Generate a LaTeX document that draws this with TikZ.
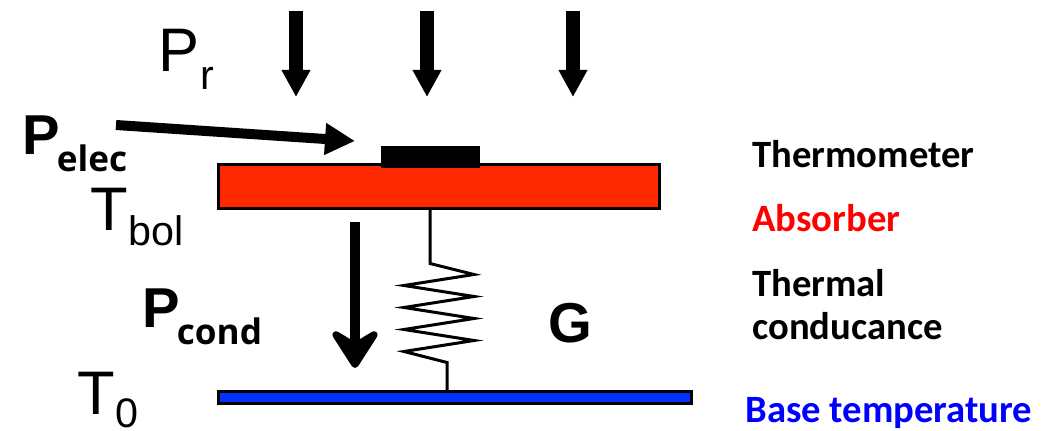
\documentclass[tikz,border=0pt]{standalone}
\usepackage{fontspec}
\setmainfont{Liberation Sans}
\newfontfamily\sidefont{Carlito}
\newfontfamily\subfont{Open Sans}
\usepackage{xcolor}
\definecolor{absorbred}{RGB}{255,41,0}
\definecolor{basesblue}{RGB}{0,51,255}
\definecolor{labelred}{RGB}{255,0,0}
\definecolor{labelblue}{RGB}{0,0,255}
\usetikzlibrary{
  arrows.meta,
  calc
}
\tikzset{
  plate/.style={draw=black, line width=0.06cm, inner sep=0pt, outer sep=0pt},
  beam/.style={line width=0.28cm, -{Triangle[length=0.54cm,width=0.54cm]}},
  elecarr/.style={line width=0.2cm, -{Triangle[length=0.6cm,width=0.6cm]}},
  condarr/.style={line width=0.2cm,
    -{Stealth[length=0.94cm,width=1.2cm,inset=0.36cm,round]}},
  thinlabel/.style={inner sep=0pt, anchor=base west, font=\fontsize{35}{38}\selectfont},
  boldlabel/.style={inner sep=0pt, anchor=base west, font=\fontsize{32}{36}\selectfont\bfseries},
  sidelabel/.style={inner sep=0pt, anchor=base west, align=left,
    font=\fontsize{22}{24.5}\selectfont\sidefont\bfseries},
}
\newcommand{\thinsub}[3][0.36cm]{#2\raisebox{-#1}{\fontsize{23.5}{26}\selectfont\hspace{0.02cm}#3}}
\newcommand{\boldsub}[2]{#1\raisebox{-0.34cm}{\fontsize{20}{22}\selectfont\subfont\bfseries\hspace{-0.06cm}#2}}

\begin{document}
\begin{tikzpicture}[x=0.02cm, y=-0.02cm]
  \useasboundingbox (0,0) rectangle (1048,431);

  % Plates
  \node[plate, fill=absorbred, minimum width=8.84cm, minimum height=0.88cm] (absorber) at (439,186.5) {};
  \node[plate, fill=basesblue, minimum width=9.48cm, minimum height=0.24cm] (basebar) at (455,398) {};
  \node[fill=black, inner sep=0pt, minimum width=1.98cm, minimum height=0.44cm] (thermo) at (430.5,157) {};

  % Radiation arrows
  \foreach \n/\x in {a/296, b/427, c/573} {
    \coordinate (\n top) at (\x,11);
    \coordinate (\n tip) at (\x,97);
    \draw[beam] (\n top) -- (\n tip);
  }

  % Electrical power
  \coordinate (elecstart) at (116,125);
  \coordinate (electip) at (355,141);
  \draw[elecarr] (elecstart) -- (electip);

  % Conducted power
  \coordinate (condstart) at (355,222);
  \coordinate (condtip) at (355,368);
  \draw[condarr] (condstart) -- (condtip);

  % Spring
  \draw[line width=0.06cm, line join=miter]
    ([xshift=-0.18cm]absorber.south) -- ++(0,55) -- ++(44,11)
    -- ++(-70,11) -- ++(70,11) -- ++(-70,11) -- ++(70,11)
    -- ++(-70,11) -- ++(70,11) -- ++(-70,11) -- ++(43,11)
    -- ([xshift=-0.16cm]basebar.north);

  % Left labels
  \node[thinlabel] (pr) at (158,72) {\thinsub{P}{r}};
  \node[boldlabel] (pelec) at (22,155) {\boldsub{P}{elec}};
  \node[thinlabel] (tbol) at (90,231) {\thinsub[0.3cm]{T}{bol}};
  \node[boldlabel] (pcond) at (142,328) {\boldsub{P}{cond}};
  \node[thinlabel] (tzero) at (77,415) {\thinsub[0.26cm]{T}{0}};
  \node[boldlabel] (gee) at (548,343) {G};

  % Right labels
  \node[sidelabel] (thermolabel) at (752,168) {Thermometer};
  \node[sidelabel, text=labelred] (abslabel) at (752,232) {Absorber};
  \node[sidelabel] (condlabel) at (752,340) {Thermal\\conducance};
  \node[sidelabel, text=labelblue] (baselabel) at (745,423) {Base temperature};
\end{tikzpicture}
\end{document}
